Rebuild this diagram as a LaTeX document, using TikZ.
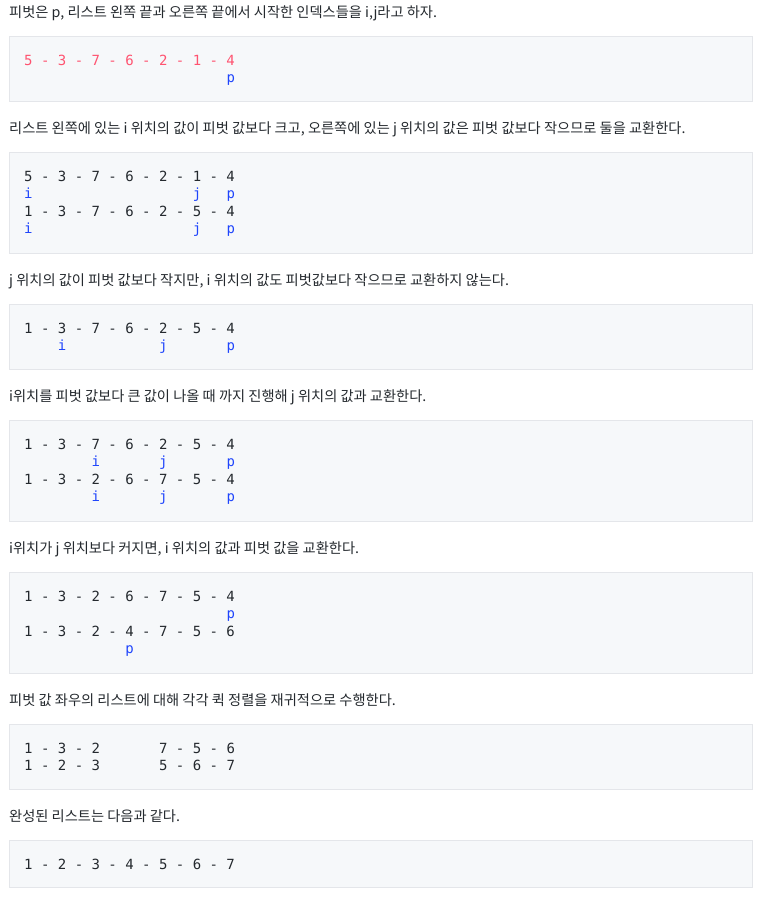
\documentclass[tikz,border=0pt]{standalone}
\usepackage{fontspec}
\usepackage{xcolor}
\newfontfamily\krfont{Noto Sans CJK KR}
\newfontfamily\monofont{DejaVu Sans Mono}
\definecolor{bodytext}{HTML}{24292E}
\definecolor{codered}{HTML}{FF5370}
\definecolor{idxblue}{HTML}{1F45FC}
\definecolor{codebg}{HTML}{F6F8FA}
\definecolor{codeline}{HTML}{E4E6EA}

\begin{document}
\begin{tikzpicture}[x=1pt, y=-1pt,
  para/.style = {anchor=base west, inner sep=0pt, text=bodytext, font=\krfont\fontsize{14.25}{17}\selectfont},
  row/.style = {anchor=base west, inner sep=0pt, text=bodytext, font=\monofont\fontsize{14}{17}\selectfont},
  idx/.style = {row, text=idxblue},
  codebox/.style = {draw=codeline, fill=codebg, line width=1pt}]
  \useasboundingbox (0,0) rectangle (764,902);

  % step 1
  \node[para] (p1) at (9,17.5) {피벗은 p, 리스트 왼쪽 끝과 오른쪽 끝에서 시작한 인덱스들을 i,j라고 하자.};
  \draw[codebox] (9,36) rectangle (752,101);
  \node[row, text=codered] (r1a) at (24,65) {5 - 3 - 7 - 6 - 2 - 1 - 4};
  \node[idx] (r1p) at (226.3,82.5) {p};

  % step 2
  \node[para] (p2) at (9,133.5) {리스트 왼쪽에 있는 i 위치의 값이 피벗 값보다 크고, 오른쪽에 있는 j 위치의 값은 피벗 값보다 작으므로 둘을 교환한다.};
  \draw[codebox] (9,152) rectangle (752,253);
  \node[row] (r2a) at (24,181) {5 - 3 - 7 - 6 - 2 - 1 - 4};
  \node[idx] (r2i) at (24,198.5) {i};
  \node[idx] (r2j) at (192.6,198.5) {j};
  \node[idx] (r2p) at (226.3,198.5) {p};
  \node[row] (r2b) at (24,216) {1 - 3 - 7 - 6 - 2 - 5 - 4};
  \node[idx] (r2i2) at (24,233.5) {i};
  \node[idx] (r2j2) at (192.6,233.5) {j};
  \node[idx] (r2p2) at (226.3,233.5) {p};

  % step 3
  \node[para] (p3) at (9,285.5) {j 위치의 값이 피벗 값보다 작지만, i 위치의 값도 피벗값보다 작으므로 교환하지 않는다.};
  \draw[codebox] (9,304) rectangle (752,369);
  \node[row] (r3a) at (24,333) {1 - 3 - 7 - 6 - 2 - 5 - 4};
  \node[idx] (r3i) at (57.7,350.5) {i};
  \node[idx] (r3j) at (158.9,350.5) {j};
  \node[idx] (r3p) at (226.3,350.5) {p};

  % step 4
  \node[para] (p4) at (9,401.5) {i위치를 피벗 값보다 큰 값이 나올 때 까지 진행해 j 위치의 값과 교환한다.};
  \draw[codebox] (9,420) rectangle (752,521);
  \node[row] (r4a) at (24,449) {1 - 3 - 7 - 6 - 2 - 5 - 4};
  \node[idx] (r4i) at (91.4,466.5) {i};
  \node[idx] (r4j) at (158.9,466.5) {j};
  \node[idx] (r4p) at (226.3,466.5) {p};
  \node[row] (r4b) at (24,484) {1 - 3 - 2 - 6 - 7 - 5 - 4};
  \node[idx] (r4i2) at (91.4,501.5) {i};
  \node[idx] (r4j2) at (158.9,501.5) {j};
  \node[idx] (r4p2) at (226.3,501.5) {p};

  % step 5
  \node[para] (p5) at (9,553.5) {i위치가 j 위치보다 커지면, i 위치의 값과 피벗 값을 교환한다.};
  \draw[codebox] (9,572) rectangle (752,673);
  \node[row] (r5a) at (24,601) {1 - 3 - 2 - 6 - 7 - 5 - 4};
  \node[idx] (r5p) at (226.3,618.5) {p};
  \node[row] (r5b) at (24,636) {1 - 3 - 2 - 4 - 7 - 5 - 6};
  \node[idx] (r5p2) at (125.2,653.5) {p};

  % step 6
  \node[para] (p6) at (9,705.5) {피벗 값 좌우의 리스트에 대해 각각 퀵 정렬을 재귀적으로 수행한다.};
  \draw[codebox] (9,724) rectangle (752,789);
  \node[row] (r6a) at (24,753) {1 - 3 - 2};
  \node[row] (r6b) at (158.9,753) {7 - 5 - 6};
  \node[row] (r6c) at (24,770.5) {1 - 2 - 3};
  \node[row] (r6d) at (158.9,770.5) {5 - 6 - 7};

  % result
  \node[para] (p7) at (9,821.5) {완성된 리스트는 다음과 같다.};
  \draw[codebox] (9,840) rectangle (752,887);
  \node[row] (r7a) at (24,869) {1 - 2 - 3 - 4 - 5 - 6 - 7};
\end{tikzpicture}
\end{document}
